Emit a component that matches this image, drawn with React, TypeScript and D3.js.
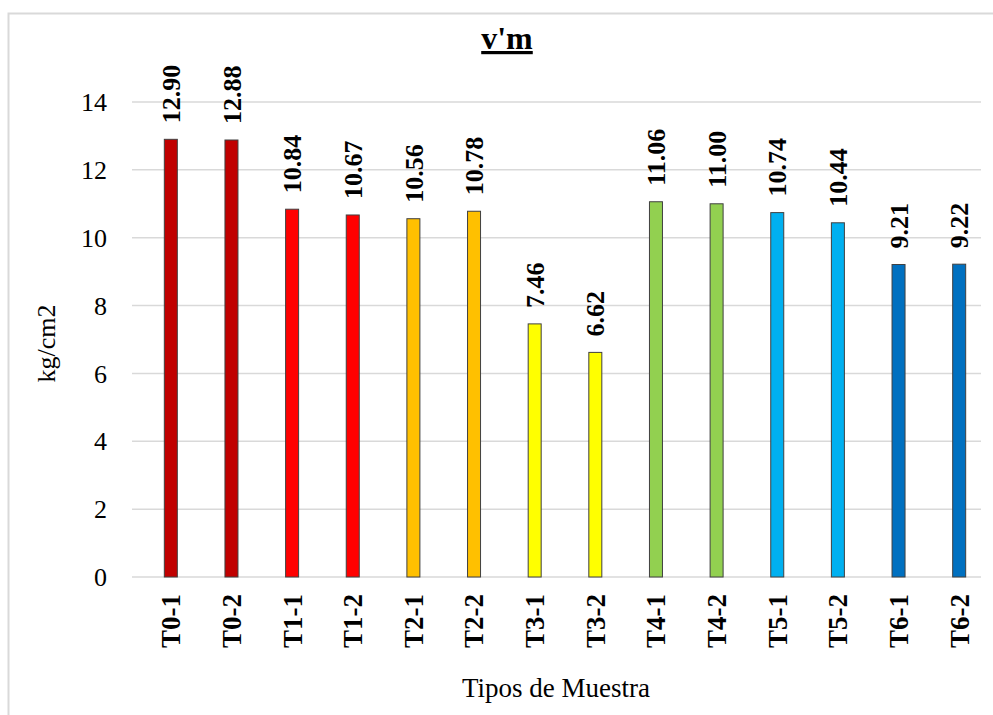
import React from "react";
import * as d3 from "d3";

const categories = ["T0-1","T0-2","T1-1","T1-2","T2-1","T2-2","T3-1","T3-2","T4-1","T4-2","T5-1","T5-2","T6-1","T6-2"];
const values = [12.90,12.88,10.84,10.67,10.56,10.78,7.46,6.62,11.06,11.00,10.74,10.44,9.21,9.22];
const colors = ["#C00000","#C00000","#FF0000","#FF0000","#FFC000","#FFC000","#FFFF00","#FFFF00","#92D050","#92D050","#00B0F0","#00B0F0","#0070C0","#0070C0"];
const yTicks = [0,2,4,6,8,10,12,14];
const title = "v'm";
const yTitle = "kg/cm2";
const xTitle = "Tipos de Muestra";

const W = 993, H = 715;
const plot = { left: 132, right: 981, top: 102, bottom: 577 };
const barOffset = 8.5;
const barWidth = 13;
const ts = { fontFamily: "Liberation Serif" };

export default function App() {
  const x = d3.scaleBand<string>().domain(categories).range([plot.left, plot.right]);
  const y = d3.scaleLinear().domain([0, 14]).range([plot.bottom, plot.top]);
  const cx = (c: string) => (x(c) as number) + x.bandwidth() / 2 + barOffset;

  return (
    <svg width={W} height={H} style={{ position: "absolute", left: 0, top: 0, background: "#fff" }}>
      <rect x={0} y={0} width={W} height={H} fill="#fff" />
      <rect x={8.5} y={13.5} width={W + 10} height={H + 10} fill="none" stroke="#d9d9d9" strokeWidth={2} />
      {yTicks.map((t) => (
        <g key={t}>
          <line x1={plot.left} x2={plot.right} y1={y(t)} y2={y(t)} stroke="#d9d9d9" strokeWidth={1.5} />
          <text style={ts} x={107} y={y(t)} dy="0.35em" textAnchor="end" fontSize={26} fill="#000">{t}</text>
        </g>
      ))}
      {categories.map((c, i) => (
        <g key={c}>
          <rect x={cx(c) - barWidth / 2} y={y(values[i])} width={barWidth} height={y(0) - y(values[i])}
            fill={colors[i]} stroke="#404040" strokeWidth={1} />
          <text style={ts} transform={`translate(${cx(c)},${y(values[i]) - 16}) rotate(-90)`} dy="0.35em"
            textAnchor="start" fontSize={26} fontWeight="bold" fill="#000">{values[i].toFixed(2)}</text>
          <text style={ts} transform={`translate(${cx(c)},${plot.bottom + 17}) rotate(-90)`} dy="0.35em"
            textAnchor="end" fontSize={27} fontWeight="bold" fill="#000">{c}</text>
        </g>
      ))}
      <text style={ts} x={507} y={49} textAnchor="middle" fontSize={32} fontWeight="bold" textDecoration="underline" fill="#000">{title}</text>
      <text style={ts} transform={`translate(46,${(plot.top + plot.bottom) / 2 + 4}) rotate(-90)`} dy="0.35em" textAnchor="middle" fontSize={26} fill="#000">{yTitle}</text>
      <text style={ts} x={556} y={697} textAnchor="middle" fontSize={27} fill="#000">{xTitle}</text>
    </svg>
  );
}
